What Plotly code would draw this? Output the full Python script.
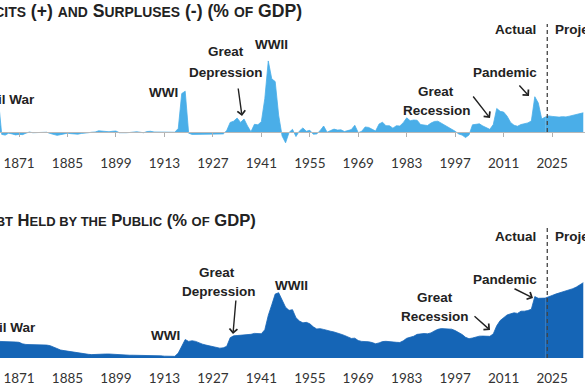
import plotly.graph_objects as go

W, H = 585, 390

# ---------------- data ----------------
years_hist = list(range(1865, 2024))
years_proj = list(range(2023, 2035))

deficit_hist = [
    # 1865-1874
    14.0, -1.0, -1.3, -0.5, -0.8, -1.2, -1.0, -1.1, -0.5, 0.0,
    # 1875-1884
    -0.3, -0.3, -0.4, -0.2, -0.1, -0.6, -1.0, -1.4, -1.1, -0.8,
    # 1885-1894
    -0.5, -0.7, -0.8, -0.9, -0.6, -0.6, -0.3, -0.1, 0.0, 0.5,
    # 1895-1904
    0.3, 0.2, 0.1, 0.3, 0.4, -0.3, -0.4, -0.3, -0.2, 0.1,
    # 1905-1914
    0.1, -0.1, -0.3, 0.2, 0.3, 0.0, 0.0, 0.0, 0.0, 0.0,
    # 1915-1924
    0.1, -0.1, 1.5, 16.0, 17.0, -0.5, -1.0, -1.0, -0.9, -1.0,
    # 1925-1934
    -0.7, -0.9, -1.0, -0.9, -0.7, -0.8, 0.6, 4.0, 4.5, 5.8,
    # 1935-1944
    4.0, 5.4, 2.5, 0.1, 3.2, 3.0, 4.3, 13.9, 29.6, 22.2,
    # 1945-1954
    21.0, 7.0, -1.7, -4.5, -0.2, 1.1, -1.9, 0.4, 1.7, 0.3,
    # 1955-1964
    0.7, -0.9, -0.8, 0.6, 2.5, -0.1, 0.6, 1.2, 0.8, 0.9,
    # 1965-1974
    0.2, 0.5, 1.0, 2.8, -0.3, 0.3, 2.1, 1.9, 1.1, 0.4,
    # 1975-1984
    3.3, 4.1, 2.6, 2.6, 1.6, 2.6, 2.5, 3.9, 5.9, 4.7,
    # 1985-1994
    5.0, 4.9, 3.1, 3.0, 2.7, 3.7, 4.4, 4.5, 3.7, 2.8,
    # 1995-2004
    2.1, 1.3, 0.3, -0.8, -1.3, -2.3, -1.2, 3.0, 3.3, 3.4,
    # 2005-2014
    2.5, 1.8, 1.1, 3.1, 9.8, 8.6, 8.3, 6.6, 4.0, 2.8,
    # 2015-2023
    2.4, 3.1, 3.4, 3.8, 4.6, 14.7, 12.1, 5.4, 6.2,
]
deficit_proj = [6.2, 6.7, 6.5, 6.3, 6.2, 6.4, 6.3, 6.6, 6.9, 7.2, 7.6, 8.0]

debt_hist = [
    # 1865-1874
    27.0, 27.0, 26.5, 26.0, 26.0, 26.0, 25.5, 23.0, 22.0, 22.0,
    # 1875-1884
    21.5, 21.0, 21.0, 21.5, 21.0, 20.0, 17.5, 14.5, 13.0, 12.0,
    # 1885-1894
    11.0, 10.0, 9.0, 8.0, 7.0, 6.5, 6.0, 5.5, 6.0, 6.5,
    # 1895-1904
    6.5, 6.5, 6.5, 6.0, 6.5, 6.0, 5.5, 5.0, 4.5, 4.5,
    # 1905-1914
    4.5, 4.0, 4.0, 4.0, 4.0, 3.5, 3.5, 3.5, 3.0, 3.0,
    # 1915-1924
    3.0, 2.7, 8.0, 18.0, 30.0, 27.0, 28.0, 27.0, 24.5, 22.5,
    # 1925-1934
    21.0, 19.5, 18.5, 17.5, 16.0, 16.5, 19.0, 33.0, 36.0, 36.5,
    # 1935-1944
    37.0, 37.5, 37.0, 38.5, 40.0, 40.0, 39.5, 45.9, 69.2, 86.2,
    # 1945-1954
    103.9, 106.1, 93.9, 82.4, 77.4, 78.5, 65.5, 60.1, 57.1, 57.9,
    # 1955-1964
    55.7, 50.6, 47.2, 47.7, 46.4, 44.3, 43.5, 42.3, 41.0, 38.7,
    # 1965-1974
    36.7, 33.7, 31.8, 32.2, 28.3, 27.0, 27.1, 26.4, 25.1, 23.1,
    # 1975-1984
    24.5, 26.7, 27.1, 26.6, 24.9, 25.5, 25.2, 27.9, 32.1, 33.1,
    # 1985-1994
    35.3, 38.4, 39.5, 39.8, 39.3, 40.8, 44.0, 46.6, 47.8, 47.7,
    # 1995-2004
    47.5, 46.8, 44.5, 41.6, 38.2, 33.6, 31.4, 32.5, 34.5, 35.5,
    # 2005-2014
    35.6, 35.3, 35.2, 39.2, 52.3, 60.9, 65.9, 70.0, 71.8, 73.4,
    # 2015-2023
    72.5, 76.0, 76.1, 77.1, 79.4, 99.8, 97.0, 97.0, 97.3,
]
debt_proj = [97.3, 99.0, 101.6, 103.8, 105.6, 107.2, 108.6, 110.6, 112.7, 115.3, 118.5, 122.4]

tick_years = [1871, 1885, 1899, 1913, 1927, 1941, 1955, 1969, 1983, 1997, 2011, 2025]
split_year = 2023.6

SC_TOP = "<span style='font-size:13.9px'>{}</span>"
SC_BOT = "<span style='font-size:13px'>{}</span>"
top_title = ("D" + SC_TOP.format("EFICITS") + " (+) " + SC_TOP.format("AND") + " S" + SC_TOP.format("URPLUSES")
             + " (-) (% " + SC_TOP.format("OF") + " GDP)")
bottom_title = ("D" + SC_BOT.format("EBT") + " H" + SC_BOT.format("ELD BY THE") + " P" + SC_BOT.format("UBLIC")
                + " (% " + SC_BOT.format("OF") + " GDP)")

# ---------------- style ----------------
TOP_COLOR = "#4aaee8"
BOT_COLOR = "#1565b6"
TXT = "#222222"
ANN_FONT = dict(family="Liberation Sans, Arial, sans-serif", size=13.5, color=TXT)
TICK_FONT = dict(family="Lato, Open Sans, sans-serif", size=13.5, color="#333333")


def px(x):
    return x / W


def py(y):
    return 1 - y / H


fig = go.Figure()
fig.add_trace(go.Scatter(x=years_hist, y=deficit_hist, mode="lines", fill="tozeroy",
                         line=dict(color=TOP_COLOR, width=0.8), fillcolor=TOP_COLOR,
                         xaxis="x", yaxis="y", showlegend=False, hoverinfo="skip"))
fig.add_trace(go.Scatter(x=years_proj, y=deficit_proj, mode="lines", fill="tozeroy",
                         line=dict(color=TOP_COLOR, width=0.8), fillcolor=TOP_COLOR,
                         xaxis="x", yaxis="y", showlegend=False, hoverinfo="skip"))
fig.add_trace(go.Scatter(x=years_hist, y=debt_hist, mode="lines", fill="tozeroy",
                         line=dict(color=BOT_COLOR, width=0.8), fillcolor=BOT_COLOR,
                         xaxis="x2", yaxis="y2", showlegend=False, hoverinfo="skip"))
fig.add_trace(go.Scatter(x=years_proj, y=debt_proj, mode="lines", fill="tozeroy",
                         line=dict(color=BOT_COLOR, width=0.8), fillcolor=BOT_COLOR,
                         xaxis="x2", yaxis="y2", showlegend=False, hoverinfo="skip"))

xr = [1865.5, 2034.5]
fig.update_layout(
    width=W, height=H,
    margin=dict(l=0, r=0, t=0, b=0),
    paper_bgcolor="white", plot_bgcolor="rgba(0,0,0,0)",
    xaxis=dict(domain=[0, 1], range=xr, anchor="free", position=py(132),
               tickvals=tick_years, ticktext=[str(t) for t in tick_years],
               ticks="outside", ticklen=4, tickcolor="#b0b0b0", tickwidth=1,
               showline=True, linecolor="#b8b8b8", linewidth=1,
               showgrid=False, zeroline=False, tickfont=TICK_FONT,
               ticklabelstandoff=15, fixedrange=True),
    yaxis=dict(domain=[py(144), py(57.6)], range=[-5, 31], visible=False,
               showgrid=False, zeroline=False, fixedrange=True),
    xaxis2=dict(domain=[0, 1], range=xr, anchor="y2",
                tickvals=tick_years, ticktext=[str(t) for t in tick_years],
                ticks="", showline=False, showgrid=False, zeroline=False,
                tickfont=TICK_FONT, ticklabelstandoff=10, fixedrange=True),
    yaxis2=dict(domain=[py(358), py(278)], range=[0, 130], visible=False,
                showgrid=False, zeroline=False, fixedrange=True),
)

# dashed actual/projected separators
fig.add_shape(type="line", xref="x", yref="paper", x0=split_year, x1=split_year,
              y0=py(132), y1=py(24), line=dict(color="#444444", width=1.3, dash="4px,3px"))
fig.add_shape(type="line", xref="x2", yref="paper", x0=split_year, x1=split_year,
              y0=py(358), y1=py(228), line=dict(color="#444444", width=1.3, dash="4px,3px"))

ann = []


def text(t, x, y, xanchor="center", font=ANN_FONT):
    ann.append(dict(text=t, x=px(x), y=py(y), xref="paper", yref="paper",
                    xanchor=xanchor, yanchor="middle", showarrow=False, font=font))


def arrow(tail, head):
    ann.append(dict(text="", x=px(head[0]), y=py(head[1]), xref="paper", yref="paper",
                    ax=tail[0] - head[0], ay=tail[1] - head[1],
                    showarrow=True, arrowhead=4, arrowsize=1.1, arrowwidth=1.4,
                    arrowcolor=TXT))


TOP_TITLE_FONT = dict(family="Liberation Sans, Arial, sans-serif", size=17.6, color=TXT)
BOT_TITLE_FONT = dict(family="Liberation Sans, Arial, sans-serif", size=16.6, color=TXT)
text("<b>" + top_title + "</b>", 304, 11, xanchor="right", font=TOP_TITLE_FONT)
text("<b>" + bottom_title + "</b>", 258, 220, xanchor="right", font=BOT_TITLE_FONT)

# top panel labels
text("<b>Civil War</b>", 37, 99, xanchor="right")
text("<b>WWI</b>", 180, 92, xanchor="right")
text("<b>Great</b>", 226, 52)
text("<b>Depression</b>", 226, 72.5)
arrow((238, 87), (242, 116))
text("<b>WWII</b>", 271, 44)
text("<b>Great</b>", 436, 91)
text("<b>Recession</b>", 437, 110)
arrow((472, 95), (490, 118))
text("<b>Pandemic</b>", 505, 72)
arrow((518, 84), (529, 96))
text("<b>Actual</b>", 538, 30, xanchor="right")
text("<b>Projected</b>", 553, 30, xanchor="left")

# bottom panel labels
text("<b>Civil War</b>", 38, 327, xanchor="right")
text("<b>WWI</b>", 182, 335, xanchor="right")
text("<b>Great</b>", 217, 272)
text("<b>Depression</b>", 219, 291)
arrow((236, 299), (233, 334))
text("<b>WWII</b>", 291, 285)
text("<b>Great</b>", 435, 297)
text("<b>Recession</b>", 435, 316)
arrow((473, 315), (490, 330))
text("<b>Pandemic</b>", 505, 279)
arrow((513, 288), (533, 298))
text("<b>Actual</b>", 538, 237, xanchor="right")
text("<b>Projected</b>", 553, 237, xanchor="left")

fig.update_layout(annotations=ann)
fig.write_html("out.html", config={"displayModeBar": False},
               post_script="document.body.style.margin='0';document.body.style.padding='0';"
                           "document.body.style.overflow='hidden';")
